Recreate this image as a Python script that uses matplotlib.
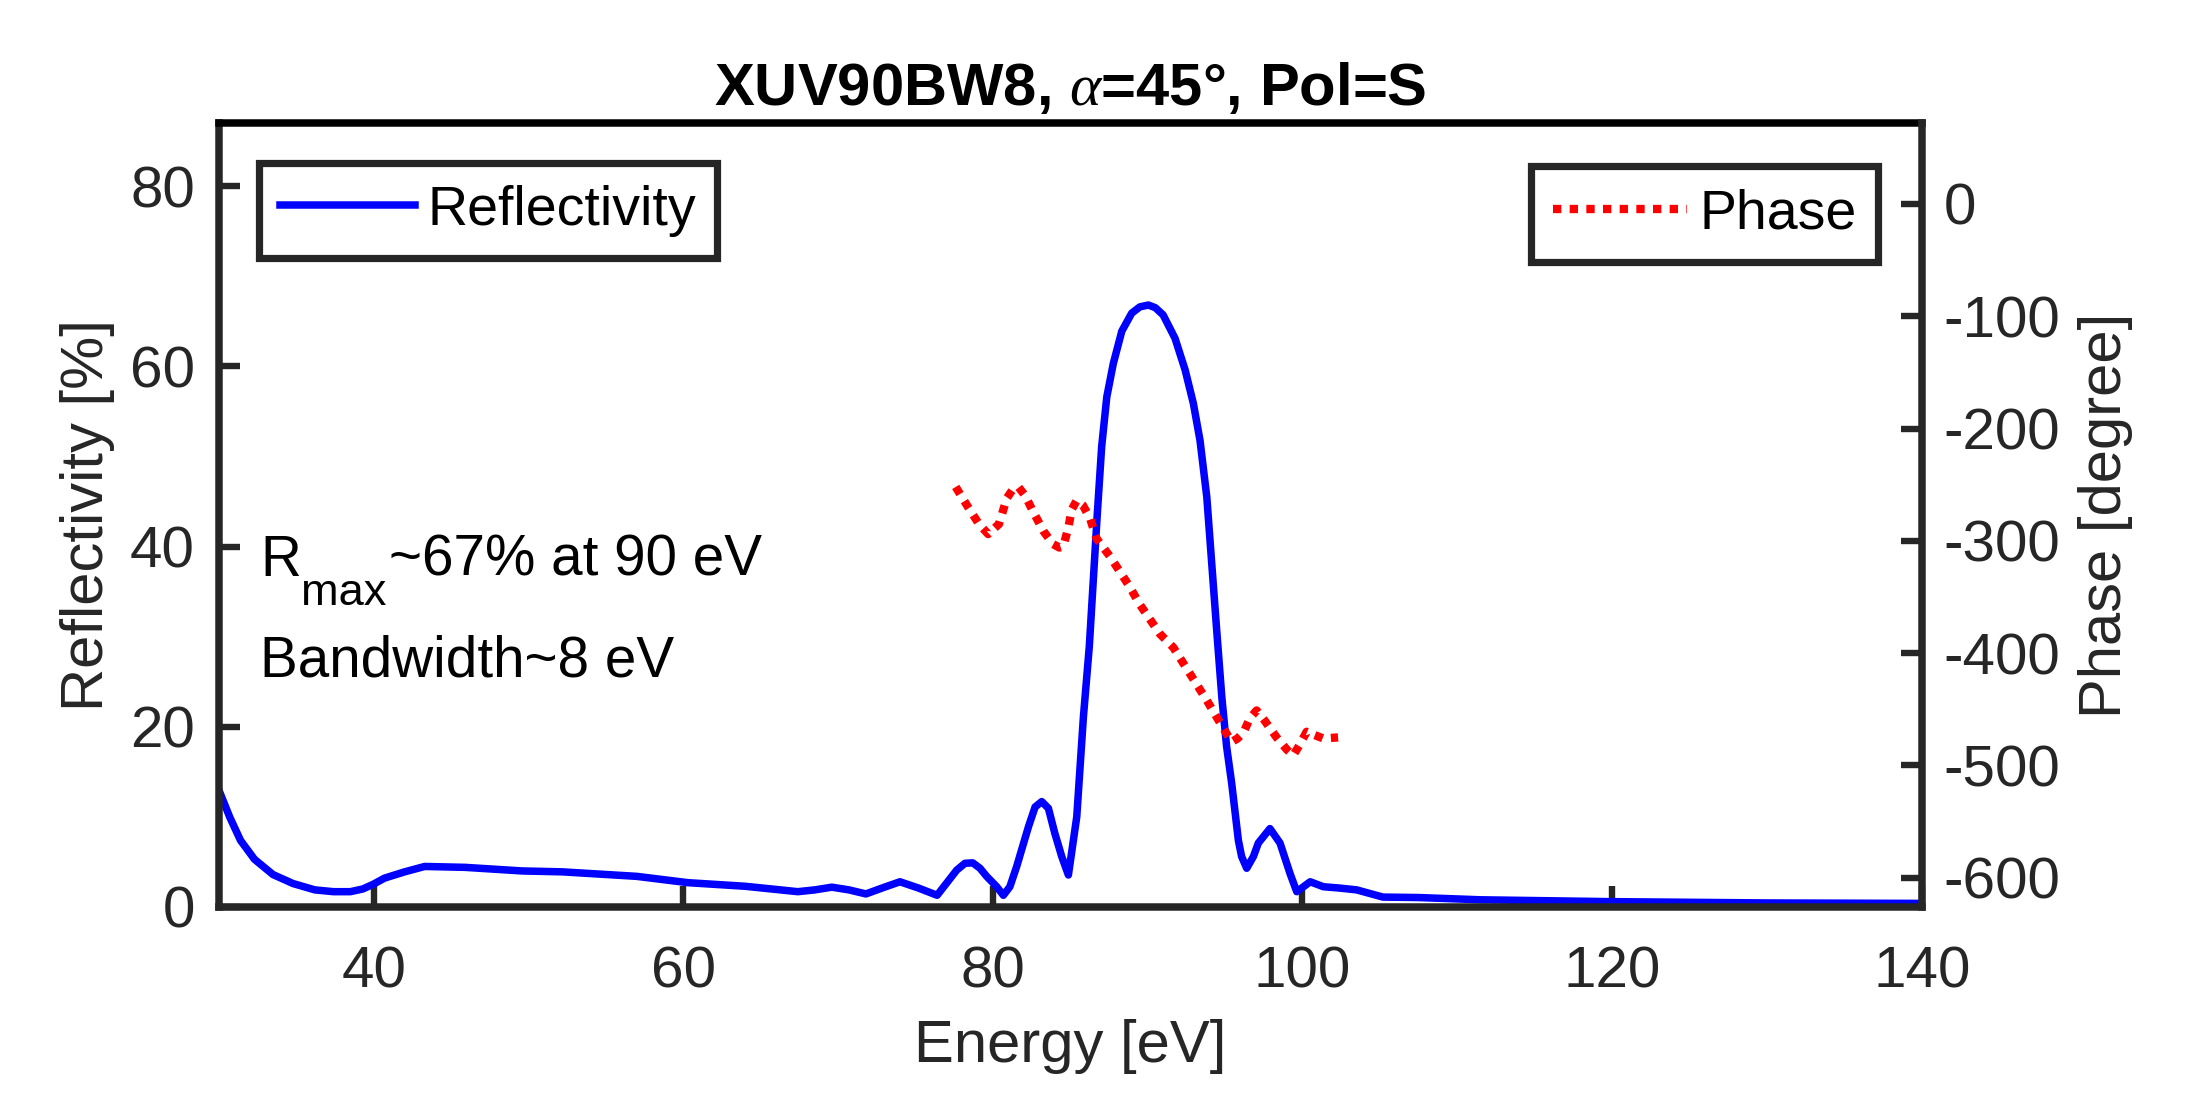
import matplotlib
matplotlib.use("Agg")
import matplotlib.pyplot as plt

# reflectivity curve
energy = [30.0, 30.7, 31.4, 32.3, 33.5, 34.8, 36.2, 37.4, 38.5, 39.3, 39.95, 40.7, 42.0,
          43.3, 45.9, 49.6, 52.2, 57.0, 60.3, 64.0, 67.4, 68.5, 69.6, 70.7, 71.8, 73.0,
          74.0, 75.2, 76.4, 77.67, 78.2, 78.7, 79.17, 79.6, 80.25, 80.68, 81.1, 81.54,
          82.3, 82.73, 83.16, 83.59, 84.0, 84.45, 84.88, 85.42, 85.85, 86.23, 86.49,
          86.75, 87.03, 87.36, 87.78, 88.33, 88.97, 89.5, 90.05, 90.5, 91.0, 91.77,
          92.42, 92.95, 93.38, 93.82, 94.14, 94.46, 94.79, 95.1, 95.43, 95.86, 96.07,
          96.4, 96.83, 97.15, 97.9, 98.55, 99.2, 99.63, 100.5, 101.35, 102.4, 103.5,
          105.2, 107.5, 111.5, 119.7, 130.0, 140.0]
reflectivity = [13.0, 10.0, 7.4, 5.3, 3.6, 2.6, 1.9, 1.7, 1.7, 2.0, 2.5, 3.2, 3.9,
                4.5, 4.4, 4.0, 3.9, 3.4, 2.7, 2.3, 1.7, 1.9, 2.2, 1.9, 1.45, 2.2,
                2.8, 2.1, 1.3, 4.1, 4.85, 4.9, 4.3, 3.4, 2.25, 1.3, 2.25, 4.5,
                8.9, 11.1, 11.7, 10.95, 8.2, 5.6, 3.55, 10.0, 21.1, 28.9, 36.3,
                43.7, 51.1, 56.6, 60.3, 63.9, 65.9, 66.6, 66.8, 66.5, 65.7, 63.1,
                59.6, 55.9, 51.8, 45.5, 38.1, 30.7, 23.3, 17.8, 13.7, 7.4, 5.6,
                4.3, 5.6, 7.1, 8.7, 7.1, 3.7, 1.7, 2.8, 2.25, 2.1, 1.9,
                1.1, 1.05, 0.8, 0.6, 0.45, 0.4]

# phase curve (right axis)
phase_energy = [77.6, 78.4, 79.1, 79.7, 80.4, 80.9, 81.3, 81.65, 82.1, 82.6, 83.3, 83.9,
                84.3, 84.55, 84.88, 85.1, 85.42, 85.8, 86.28, 86.7, 87.57, 88.8, 89.51,
                90.8, 91.66, 93.82, 94.89, 95.43, 95.8, 96.18, 96.6, 97.04, 97.5, 98.33,
                99.0, 99.4, 99.8, 100.27, 100.8, 101.35, 102.3]
phase = [-252, -270, -285, -294, -285, -262, -254, -252, -260, -274, -292, -303,
         -306, -305, -288, -272, -264, -268, -280, -298, -314, -340, -357,
         -383, -395, -442, -467, -479, -476, -471, -458, -451, -459, -475,
         -486, -491, -482, -470, -473, -476, -475]

xticks = [40, 60, 80, 100, 120, 140]
yticks_left = [0, 20, 40, 60, 80]
yticks_right = [0, -100, -200, -300, -400, -500, -600]

plt.rcParams['font.family'] = 'Liberation Sans'
plt.rcParams['axes.unicode_minus'] = False
plt.rcParams['mathtext.fontset'] = 'custom'
plt.rcParams['mathtext.rm'] = 'Liberation Sans'
plt.rcParams['mathtext.it'] = 'Liberation Serif:italic'
plt.rcParams['mathtext.bf'] = 'Liberation Sans:bold'

dark = '#262626'
W, H = 2187, 1094
fig = plt.figure(figsize=(W / 200, H / 200), dpi=200)
ax = fig.add_axes([218.8 / W, 1 - 907 / H, (1921.7 - 218.8) / W, (907 - 123) / H])

ax.plot(energy, reflectivity, color=(0, 0, 1), lw=2.7, label='Reflectivity')
ax2 = ax.twinx()
ax2.plot(phase_energy, phase, color=(1, 0, 0), lw=3, linestyle=(0, (1, 1)),
         label='Phase')

ax.set_xlim(30, 140)
ax.set_ylim(0, 87)
ax2.set_ylim(-626, 72)
ax.set_xticks(xticks)
ax.set_yticks(yticks_left)
ax2.set_yticks(yticks_right)

for a in (ax, ax2):
    for s in a.spines.values():
        s.set_linewidth(2.7)
        s.set_color(dark)
ax.spines['top'].set_color('black')
ax.spines['right'].set_visible(False)
for s in ('left', 'top', 'bottom'):
    ax2.spines[s].set_visible(False)

ax.tick_params(axis='x', direction='in', length=7.4, width=2.3, pad=13.7,
               labelsize=21, colors=dark, top=False)
ax.tick_params(axis='y', direction='in', length=7.4, width=2.3, pad=8.6,
               labelsize=21, colors=dark, right=False)
ax2.tick_params(axis='y', direction='in', length=7.4, width=2.3, pad=7.8,
                labelsize=21, colors=dark)

ax.set_xlabel('Energy [eV]', fontsize=21.5, color=dark, labelpad=7)
ax.set_ylabel('Reflectivity [%]', fontsize=21.5, color=dark, labelpad=5.4)
ax2.set_ylabel('Phase [degree]', fontsize=21.5, color=dark, labelpad=6.5)
ax.set_title(r'XUV90BW8, $\alpha$=45°, Pol=S', fontsize=21.5, fontweight='bold',
             pad=6.5)

leg1 = ax.legend(loc='upper left', fontsize=20, handlelength=2.42, handletextpad=0.22,
                 borderpad=0.39, borderaxespad=0.72, fancybox=False, framealpha=1,
                 edgecolor=dark)
leg1.get_frame().set_linewidth(2.6)
leg2 = ax2.legend(loc='upper right', fontsize=20, handlelength=2.42, handletextpad=0.22,
                  borderpad=0.39, borderaxespad=0.78, fancybox=False, framealpha=1,
                  edgecolor=dark)
leg2.get_frame().set_linewidth(2.6)

# annotation: R with a lowered "max" subscript, then the rest of the line
t_r = ax.text(0.0242, 0.4222, 'R', transform=ax.transAxes, fontsize=20.4, va='baseline')
t_sub = ax.annotate('max', xy=(1, 0), xycoords=t_r, xytext=(0, -6.1),
                    textcoords='offset points', fontsize=16.3, va='baseline')
ax.annotate('~67% at 90 eV', xy=(1, 0), xycoords=(t_sub, t_r), xytext=(1, 0),
            textcoords='offset points', fontsize=20.4, va='bottom')
ax.text(0.0242, 0.2934, 'Bandwidth~8 eV', transform=ax.transAxes,
        fontsize=20.4, va='baseline')

fig.savefig('out.png', dpi=200)
